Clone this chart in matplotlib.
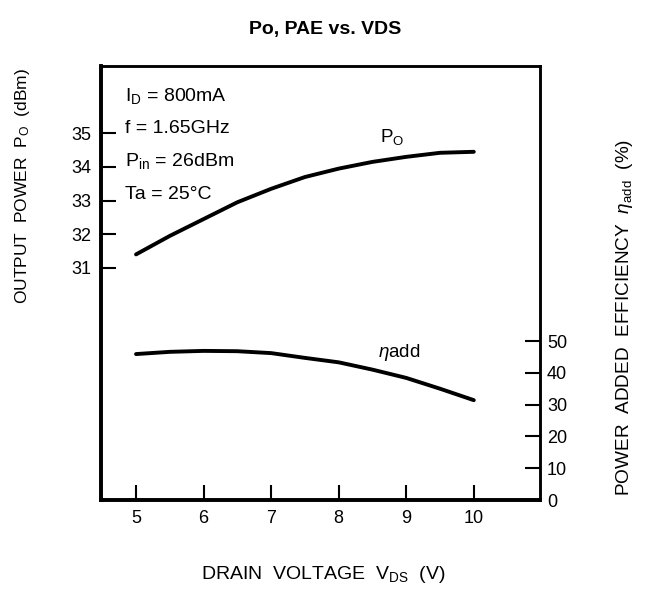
import numpy as np
import matplotlib
matplotlib.use('Agg')
import matplotlib.pyplot as plt

plt.rcParams['font.family'] = ['Liberation Sans', 'DejaVu Sans']
plt.rcParams['mathtext.fontset'] = 'custom'
plt.rcParams['mathtext.rm'] = 'Liberation Sans'
plt.rcParams['mathtext.it'] = 'Liberation Sans:italic'

# values
vds = [5, 5.5, 6, 6.5, 7, 7.5, 8, 8.5, 9, 9.5, 10]
po = [31.4, 31.95, 32.45, 32.95, 33.35, 33.7, 33.95, 34.15, 34.3, 34.42, 34.45]
eta = [45.9, 46.6, 46.9, 46.8, 46.2, 44.7, 43.3, 41.0, 38.4, 35.0, 31.4]

x_ticks = [5, 6, 7, 8, 9, 10]
po_ticks = [31, 32, 33, 34, 35]
eta_ticks = [0, 10, 20, 30, 40, 50]

fig = plt.figure(figsize=(6.51, 5.92), dpi=100)
ax = fig.add_axes([0.155, 0.1554, 0.6745, 0.7331])
ax2 = ax.twinx()

ax.plot(vds, po, 'k-', lw=2.8, solid_capstyle='round')
ax2.plot(vds, eta, 'k-', lw=2.8, solid_capstyle='round')

ax.set_xlim(4.48, 10.98)
ax.set_ylim(24.1, 37.0)
ax2.set_ylim(0, 136.5)

ax.set_xticks(x_ticks)
ax.set_yticks(po_ticks)
ax2.set_yticks(eta_ticks)

ax.tick_params(axis='both', direction='in', length=11, width=1.5,
               labelsize=13, pad=7)
ax2.tick_params(axis='y', direction='in', length=11, width=1.5,
                labelsize=13, pad=5)

for s in ['left', 'bottom']:
    ax.spines[s].set_linewidth(2.6)
for s in ['top', 'right']:
    ax.spines[s].set_linewidth(1.8)
    ax2.spines[s].set_linewidth(1.8)
ax2.spines['left'].set_linewidth(2.6)
ax2.spines['bottom'].set_linewidth(2.6)

ann = dict(transform=ax.transAxes, fontsize=14, va='center')
ax.text(0.055, 0.93, '$\\mathrm{I}_{\\mathrm{D}}$ = 800mA', **ann)
ax.text(0.055, 0.855, 'f = 1.65GHz', **ann)
ax.text(0.055, 0.78, '$\\mathrm{P}_{\\mathrm{in}}$ = 26dBm', **ann)
ax.text(0.055, 0.703, 'Ta = 25°C', **ann)

ax.text(8.79, 34.9, '$\\mathrm{P}_{\\mathrm{O}}$', fontsize=13.5, ha='center', va='center')
ax2.text(8.9, 46.5, '$\\eta$add', fontsize=13.5, ha='center', va='center')

fig.text(0.496, 0.029, 'DRAIN  VOLTAGE  $\\mathrm{V}_{\\mathrm{DS}}$  (V)', fontsize=14,
         ha='center', va='center')
fig.text(0.034, 0.685, 'OUTPUT  POWER  $\\mathrm{P}_{\\mathrm{O}}$  (dBm)', rotation=90,
         fontsize=12.5, ha='center', va='center')
fig.text(0.96, 0.463, 'POWER  ADDED  EFFICIENCY  $\\eta_{\\mathrm{add}}$  (%)', rotation=90,
         fontsize=13.7, ha='center', va='center')

fig.suptitle('Po, PAE vs. VDS', fontsize=14, fontweight='bold', y=0.965)

fig.savefig('out.png', dpi=100)
